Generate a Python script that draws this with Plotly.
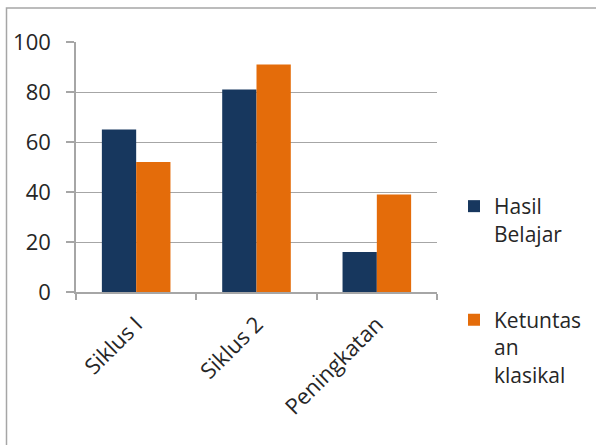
import plotly.graph_objects as go

categories = ["Siklus I", "Siklus 2", "Peningkatan"]
hasil_belajar = [65, 81, 16]
ketuntasan = [52, 91, 39]
series_names = ["Hasil<br>Belajar", "Ketuntas<br>an<br>klasikal"]
y_ticks = [0, 20, 40, 60, 80, 100]

NAVY = "#17375E"
ORANGE = "#E46C0A"
GRAY = "#A6A6A6"
FONT = "Open Sans"

W, H = 596, 445
L, R, T, B = 76, 159, 42, 153
pw, ph = W - L - R, H - T - B

fig = go.Figure()
fig.add_trace(go.Bar(x=categories, y=hasil_belajar, name=series_names[0],
                     marker=dict(color=NAVY, line=dict(width=0)), legendgroup="a"))
fig.add_trace(go.Bar(x=categories, y=ketuntasan, name=series_names[1],
                     marker=dict(color=ORANGE, line=dict(width=0)), legendgroup="b"))

fig.update_layout(
    width=W, height=H,
    margin=dict(l=L, r=R, t=T, b=B, pad=0, autoexpand=False),
    paper_bgcolor="white", plot_bgcolor="white",
    barmode="group", bargap=0.43, bargroupgap=0,
    font=dict(family=FONT, size=21, color="#262626"),
    legend=dict(x=1.0 + (454 - 437) / pw, xanchor="left",
                y=(292 - 186) / ph, yanchor="top",
                valign="top", tracegroupgap=56,
                font=dict(family=FONT, size=21, color="#262626"),
                itemwidth=30, bgcolor="rgba(0,0,0,0)"),
    showlegend=True,
)
fig.update_xaxes(
    type="category", showline=True, linecolor=GRAY, linewidth=1.5,
    ticks="outside", tickson="boundaries", ticklen=6, tickcolor=GRAY, tickwidth=1.5,
    tickangle=-45, tickfont=dict(family=FONT, size=22, color="#262626"),
    showgrid=False, zeroline=False, ticklabelstandoff=9,
)
fig.update_yaxes(
    range=[0, 100], tickvals=y_ticks, showline=True, linecolor=GRAY, linewidth=1.5,
    ticks="outside", ticklen=8, tickcolor=GRAY, tickwidth=1.5,
    showgrid=True, gridcolor=GRAY, gridwidth=1.3, zeroline=False,
    tickfont=dict(family=FONT, size=22, color="#262626"), ticklabelstandoff=11,
)
# outer chart border (extends beyond the visible canvas on right/bottom)
fig.add_shape(type="rect", xref="paper", yref="paper",
              x0=(6.5 - L) / pw, x1=(W + 20 - L) / pw,
              y0=-(H + 20 - (T + ph)) / ph, y1=(T + ph - 8) / ph,
              line=dict(color=GRAY, width=1.5), fillcolor="rgba(0,0,0,0)", layer="below")

fig.write_html("out.html")
